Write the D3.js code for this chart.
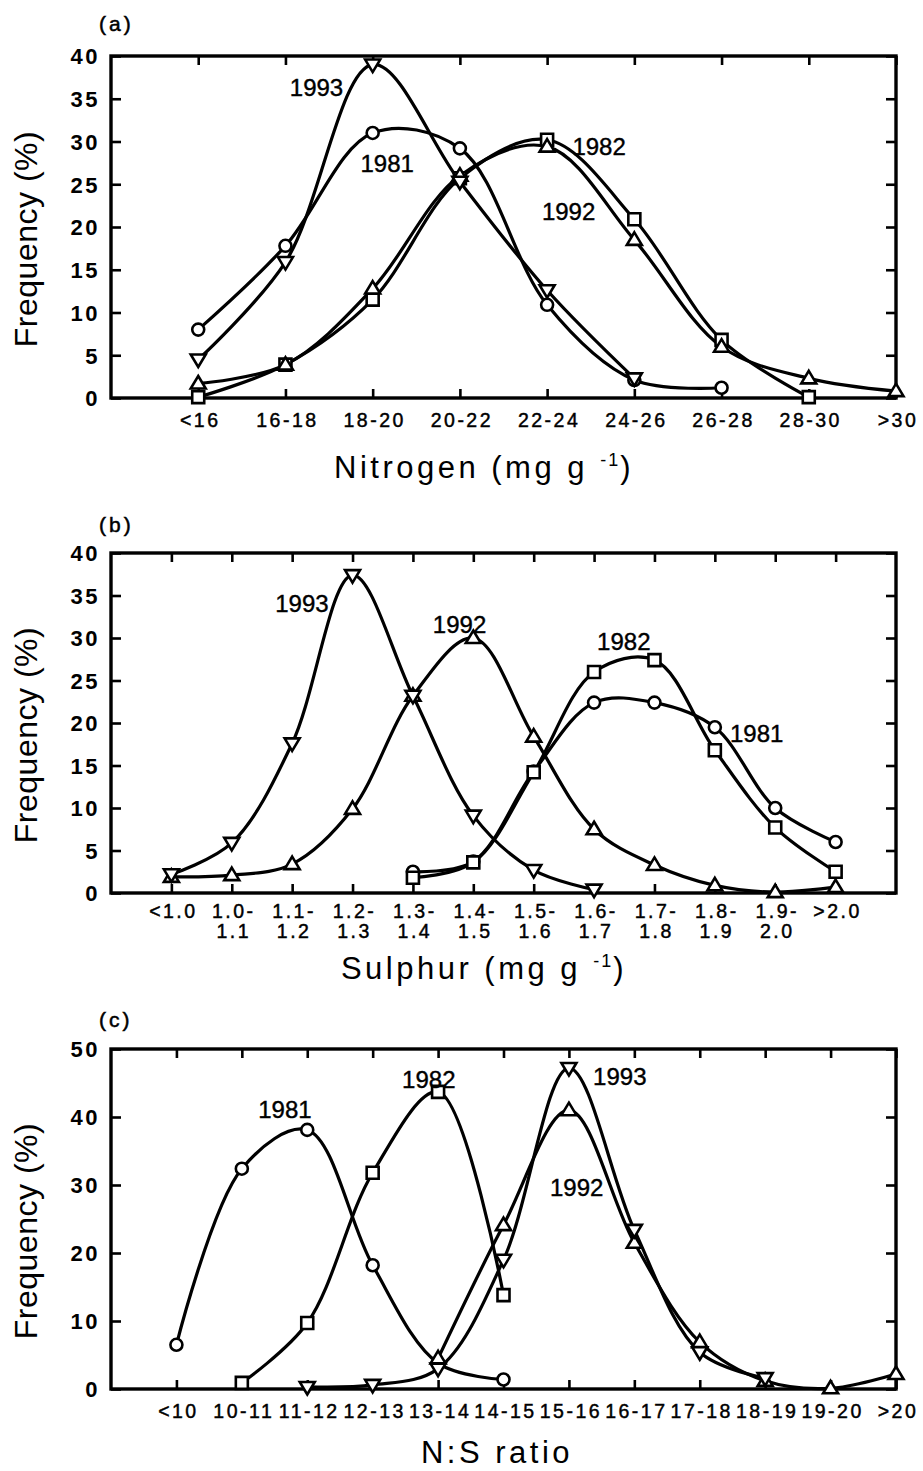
<!DOCTYPE html>
<html>
<head>
<meta charset="utf-8">
<script src="https://cdn.jsdelivr.net/npm/d3@7"></script>
<style>
  html, body { margin: 0; padding: 0; background: #fff; }
  svg { display: block; }
  text { font-family: "Liberation Sans", Arial, sans-serif; fill: #000; }
</style>
</head>
<body>
<svg id="chart" width="923" height="1471"></svg>
<script>
// ---------- DATA ----------
const nitrogenCats = ["<16", "16-18", "18-20", "20-22", "22-24", "24-26", "26-28", "28-30", ">30"];
const nitrogen1981 = [8.0, 17.8, 31.0, 29.2, 10.9, 2.1, 1.2, null, null];
const nitrogen1982 = [0.1, 3.9, 11.5, 25.7, 30.2, 20.9, 6.8, 0.1, null];
const nitrogen1992 = [1.7, 3.9, 12.8, 26.0, 29.4, 18.5, 6.0, 2.3, 0.8];
const nitrogen1993 = [4.5, 15.9, 39.0, 25.3, 12.6, 2.3, null, null, null];

const sulphurCats = ["<1.0", "1.0-\n1.1", "1.1-\n1.2", "1.2-\n1.3", "1.3-\n1.4", "1.4-\n1.5", "1.5-\n1.6", "1.6-\n1.7", "1.7-\n1.8", "1.8-\n1.9", "1.9-\n2.0", ">2.0"];
const sulphur1981 = [null, null, null, null, 2.5, 3.7, 14.3, 22.4, 22.4, 19.5, 10.0, 6.0];
const sulphur1982 = [null, null, null, null, 1.8, 3.6, 14.2, 26.0, 27.4, 16.8, 7.7, 2.5];
const sulphur1992 = [1.9, 2.1, 3.4, 9.9, 23.2, 30.0, 18.4, 7.5, 3.3, 0.9, 0.1, 0.7];
const sulphur1993 = [2.2, 5.9, 17.6, 37.4, 23.2, 9.1, 2.7, 0.4, null, null, null, null];

const ratioCats = ["<10", "10-11", "11-12", "12-13", "13-14", "14-15", "15-16", "16-17", "17-18", "18-19", "19-20", ">20"];
const ratio1981 = [6.5, 32.4, 38.1, 18.2, 3.8, 1.4, null, null, null, null, null, null];
const ratio1982 = [null, 0.9, 9.7, 31.8, 43.7, 13.8, null, null, null, null, null, null];
const ratio1992 = [null, null, null, null, 4.5, 24.1, 41.0, 21.5, 6.9, 1.2, 0.1, 2.2];
const ratio1993 = [null, null, 0.3, 0.6, 3.0, 19.0, 47.2, 23.4, 5.4, 1.6, null, null];

const yTicksA = [0, 5, 10, 15, 20, 25, 30, 35, 40];
const yTicksB = [0, 5, 10, 15, 20, 25, 30, 35, 40];
const yTicksC = [0, 10, 20, 30, 40, 50];

// series labels: [text, category-index position, value position]
const labelsA = [["1993", 2.05, 35.3], ["1981", 2.86, 26.4], ["1982", 5.29, 28.4], ["1992", 4.94, 20.8]];
const labelsB = [["1993", 2.72, 33.1], ["1992", 5.33, 30.6], ["1982", 8.05, 28.6], ["1981", 10.25, 17.8]];
const labelsC = [["1981", 2.25, 39.85], ["1982", 4.45, 44.3], ["1993", 7.37, 44.7], ["1992", 6.71, 28.4]];

// ---------- LAYOUT ----------
const svg = d3.select("#chart");
const left = 111, right = 896;

const panels = [
  { letter: "(a)", cats: nitrogenCats, xMax: 9, yMax: 40, yTicks: yTicksA, top: 56, bottom: 398,
    series: [["circle", nitrogen1981], ["square", nitrogen1982], ["up", nitrogen1992], ["down", nitrogen1993]],
    labels: labelsA, title: "Nitrogen (mg g ", sup: true, letterY: 31, labelDy: 29, titleY: 478 },
  { letter: "(b)", cats: sulphurCats, xMax: 13, yMax: 40, yTicks: yTicksB, top: 553, bottom: 893,
    series: [["circle", sulphur1981], ["square", sulphur1982], ["up", sulphur1992], ["down", sulphur1993]],
    labels: labelsB, title: "Sulphur (mg g ", sup: true, letterY: 532, labelDy: 25, titleY: 979 },
  { letter: "(c)", cats: ratioCats, xMax: 12, yMax: 50, yTicks: yTicksC, top: 1049, bottom: 1389,
    series: [["circle", ratio1981], ["square", ratio1982], ["up", ratio1992], ["down", ratio1993]],
    labels: labelsC, title: "N:S ratio", sup: false, letterY: 1027, labelDy: 29, titleY: 1463 }
];

function markerPath(type) {
  if (type === "square") return "M-6,-6H6V6H-6Z";
  if (type === "up") return "M0,-7.5L7.5,5L-7.5,5Z";
  if (type === "down") return "M0,7.5L7.5,-5L-7.5,-5Z";
  return null;
}

panels.forEach(p => {
  const x = d3.scaleLinear().domain([0, p.xMax]).range([left, right]);
  const y = d3.scaleLinear().domain([0, p.yMax]).range([p.bottom, p.top]);
  const g = svg.append("g");
  const catIdx = p.cats.map((c, i) => i + 1);

  // frame
  g.append("rect").attr("x", left).attr("y", p.top).attr("width", right - left).attr("height", p.bottom - p.top)
    .attr("fill", "none").attr("stroke", "#000").attr("stroke-width", 3.4);

  // axes ticks (inside)
  const axL = d3.axisLeft(y).tickValues(p.yTicks).tickSize(-10).tickFormat("");
  const axR = d3.axisRight(y).tickValues(p.yTicks).tickSize(-10).tickFormat("");
  const axT = d3.axisTop(x).tickValues(catIdx).tickSize(-9).tickFormat("");
  const axB = d3.axisBottom(x).tickValues(catIdx).tickSize(-9).tickFormat("");
  [[axL, `translate(${left},0)`], [axR, `translate(${right},0)`], [axT, `translate(0,${p.top})`], [axB, `translate(0,${p.bottom})`]]
    .forEach(([ax, tr]) => {
      const a = g.append("g").attr("transform", tr).call(ax);
      a.select(".domain").remove();
      a.selectAll("line").attr("stroke", "#000").attr("stroke-width", 2.6);
    });

  // y tick labels
  g.selectAll(".ylab").data(p.yTicks).enter().append("text")
    .attr("x", 100).attr("y", d => y(d)).attr("dy", "0.38em")
    .attr("text-anchor", "end").attr("font-size", 22).attr("font-weight", "bold")
    .attr("letter-spacing", "2.5px").text(d => d);

  // x tick labels
  p.cats.forEach((c, i) => {
    const lines = c.split("\n");
    const t = g.append("text").attr("text-anchor", "middle").attr("font-size", 19.5)
      .attr("letter-spacing", "2.5px").attr("stroke", "#000").attr("stroke-width", 0.45);
    lines.forEach((ln, k) => {
      t.append("tspan").attr("x", x(i + 1) + 2).attr("y", p.bottom + p.labelDy + k * 20).text(ln);
    });
  });

  // panel letter
  g.append("text").attr("x", 99).attr("y", p.letterY).attr("font-size", 21).attr("letter-spacing", "3px")
    .attr("stroke", "#000").attr("stroke-width", 0.5).text(p.letter);

  // y axis title
  g.append("text").attr("transform", `translate(37,${(p.top + p.bottom) / 2 + 12}) rotate(-90)`)
    .attr("text-anchor", "middle").attr("font-size", 32).attr("letter-spacing", "0.5px").text("Frequency (%)");

  // x axis title
  const tt = g.append("text").attr("x", p.sup ? 484 : 497).attr("y", p.titleY).attr("text-anchor", "middle")
    .attr("font-size", 31).attr("letter-spacing", "3.5px");
  tt.append("tspan").text(p.title);
  if (p.sup) {
    tt.append("tspan").attr("font-size", 18).attr("dy", -12).attr("letter-spacing", "2px").text("-1");
    tt.append("tspan").attr("dy", 12).text(")");
  }

  // curves
  const line = d3.line()
    .defined(d => d.v != null)
    .x(d => x(d.i)).y(d => y(d.v))
    .curve(d3.curveCatmullRom.alpha(0.5));
  p.series.forEach(([type, vals]) => {
    const pts = vals.map((v, i) => ({ i: i + 1, v }));
    g.append("path").datum(pts).attr("d", line).attr("fill", "none")
      .attr("stroke", "#000").attr("stroke-width", 3.2);
  });

  // markers
  p.series.forEach(([type, vals]) => {
    const pts = vals.map((v, i) => ({ i: i + 1, v })).filter(d => d.v != null);
    const sel = g.selectAll(null).data(pts).enter();
    if (type === "circle") {
      sel.append("circle").attr("cx", d => x(d.i)).attr("cy", d => y(d.v)).attr("r", 6)
        .attr("fill", "#fff").attr("stroke", "#000").attr("stroke-width", 2.6);
    } else {
      sel.append("path").attr("d", markerPath(type))
        .attr("transform", d => `translate(${x(d.i)},${y(d.v)})`)
        .attr("fill", "#fff").attr("stroke", "#000").attr("stroke-width", 2.6);
    }
  });

  // series labels
  p.labels.forEach(([txt, i, v]) => {
    g.append("text").attr("x", x(i)).attr("y", y(v)).attr("font-size", 24)
      .attr("stroke", "#000").attr("stroke-width", 0.4).text(txt);
  });
});
</script>
</body>
</html>
